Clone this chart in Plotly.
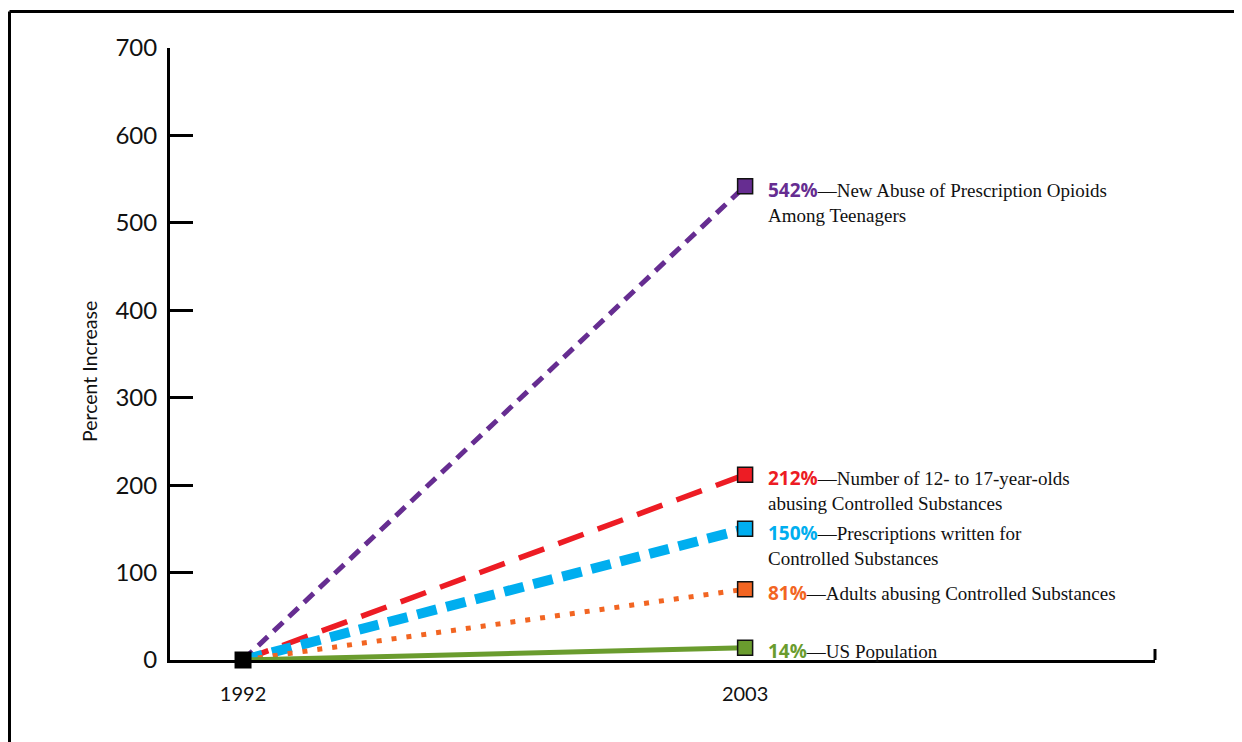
import plotly.graph_objects as go

years = [1992, 2003]
series_names = ["purple", "red", "blue", "orange", "green"]
end_values = [542, 212, 150, 81, 14]
pct_labels = ["542%", "212%", "150%", "81%", "14%"]
descriptions = [
    ["New Abuse of Prescription Opioids", "Among Teenagers"],
    ["Number of 12- to 17-year-olds", "abusing Controlled Substances"],
    ["Prescriptions written for", "Controlled Substances"],
    ["Adults abusing Controlled Substances"],
    ["US Population"],
]
colors = ["#662D91", "#ED1C24", "#00AEEF", "#F26522", "#6A9C2E"]
dashes = ["13px,8px", "27px,15px", "20px,10px", "5px,10px", "solid"]
widths = [5, 5.5, 10, 5, 5]
y_ticks = [0, 100, 200, 300, 400, 500, 600, 700]

# page body adds an 8px offset; reference pixel positions are corrected by it
OFF = 8
L, R, T, B = 170 - OFF, 1155 - OFF, 48 - OFF, 660 - OFF
PW, PH = R - L, B - T


def px(x):
    return (x - OFF - L) / PW


def py(y):
    return (B - (y - OFF)) / PH


fig = go.Figure()

for v, c, d, w in zip(end_values, colors, dashes, widths):
    fig.add_trace(go.Scatter(
        x=years, y=[0, v], mode="lines",
        line=dict(color=c, dash=d, width=w),
        showlegend=False, hoverinfo="skip",
    ))

for v, c in zip(end_values, colors):
    fig.add_trace(go.Scatter(
        x=[years[1]], y=[v], mode="markers",
        marker=dict(symbol="square", size=15, color=c, line=dict(color="#111", width=1.5)),
        showlegend=False, hoverinfo="skip",
    ))

fig.add_trace(go.Scatter(
    x=[years[0]], y=[0], mode="markers",
    marker=dict(symbol="square", size=17, color="black"),
    showlegend=False, hoverinfo="skip", cliponaxis=False,
))

FS = 19
annotations = []
for v, c, p, desc in zip(end_values, colors, pct_labels, descriptions):
    text = f"<span style='font-family:\"Open Sans\";color:{c}'><b>{p}</b></span>—" + "<br>".join(desc)
    annotations.append(dict(
        x=years[1], y=v, xref="x", yref="y",
        text=text,
        showarrow=False, xanchor="left", yanchor="top", align="left",
        xshift=21, yshift=FS * 0.65 - 1,
        font=dict(family="Liberation Serif", size=FS, color="#111"),
    ))

annotations.append(dict(
    x=px(89), y=py(372), xref="paper", yref="paper", text="Percent Increase",
    showarrow=False, textangle=-90, xanchor="center", yanchor="middle",
    font=dict(family="Lato", size=19.5, color="#111"),
))

shapes = [
    dict(type="line", xref="paper", yref="paper", x0=px(9.5), x1=px(1260), y0=py(11.5), y1=py(11.5),
         line=dict(color="black", width=3)),
    dict(type="line", xref="paper", yref="paper", x0=px(9.5), x1=px(9.5), y0=py(11.5), y1=py(760),
         line=dict(color="black", width=3)),
    dict(type="line", xref="paper", yref="paper", x0=1, x1=1, y0=0, y1=py(649),
         line=dict(color="black", width=3)),
]

fig.update_layout(
    width=1242, height=742,
    margin=dict(l=L, r=1242 - R, t=T, b=742 - B),
    paper_bgcolor="white", plot_bgcolor="white",
    showlegend=False,
    annotations=annotations, shapes=shapes,
    xaxis=dict(
        range=[1990.40, 2011.98], tickvals=years, ticktext=[str(y) for y in years],
        showgrid=False, zeroline=False, showline=True, linecolor="black", linewidth=3,
        ticks="", ticklabelstandoff=14,
        tickfont=dict(family="Lato", size=20, color="#111"),
    ),
    yaxis=dict(
        range=[0, 700], tickvals=y_ticks,
        showgrid=False, zeroline=False, showline=True, linecolor="black", linewidth=3,
        ticks="inside", ticklen=23, tickwidth=3, tickcolor="black",
        ticklabelstandoff=5,
        tickfont=dict(family="Lato", size=24, color="#111"),
    ),
)

fig.write_html("out.html")
